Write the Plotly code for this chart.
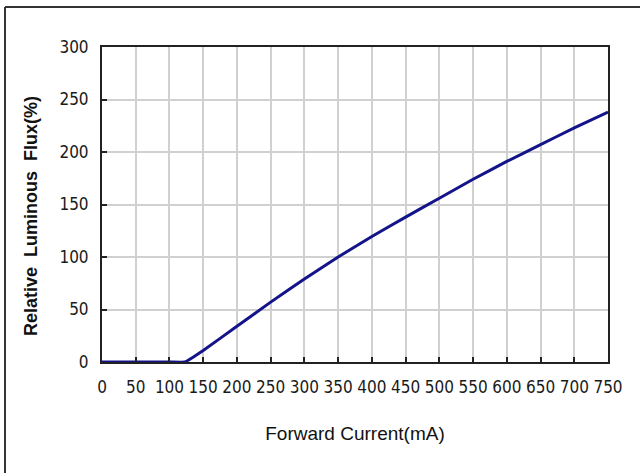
import plotly.graph_objects as go

# Relative luminous flux versus forward current
current_ma = [0, 50, 100, 123, 150, 200, 250, 300, 350, 400, 450, 500, 550, 600, 650, 700, 750]
flux_pct = [0, 0, 0, 0, 11, 34, 57, 79, 100, 119.5, 138, 156, 174, 191, 207, 223, 238]

x_ticks = list(range(0, 751, 50))
y_ticks = list(range(0, 301, 50))

tick_font = dict(family="DejaVu Sans Condensed, Liberation Sans, sans-serif", size=17, color="#1a1a1a")

fig = go.Figure()
fig.add_trace(go.Scatter(
    x=current_ma, y=flux_pct, mode="lines",
    line=dict(color="#14148a", width=3, shape="spline", smoothing=0.3),
    showlegend=False, hoverinfo="skip",
))

axis_common = dict(
    showgrid=True, gridcolor="#d0d0d0", gridwidth=1.5,
    showline=True, linecolor="#222222", linewidth=2, mirror=True,
    ticks="inside", ticklen=5, tickwidth=1.5, tickcolor="#222222",
    tickfont=tick_font, zeroline=False,
)

fig.update_xaxes(
    range=[0, 750], tickvals=x_ticks, ticklabelstandoff=9,
    title=dict(text="Forward Current(mA)", standoff=30,
               font=dict(family="Liberation Sans, Arial, sans-serif", size=19, color="#111111")),
    **axis_common,
)
fig.update_yaxes(range=[0, 300], tickvals=y_ticks, ticklabelstandoff=8, **axis_common)

# Outer frame (top and left edges of the figure box)
L, R, T, B = 102, 608, 47, 362
def px_x(p):
    return (p - L) / (R - L)
def px_y(p):
    return (B - p) / (B - T)

fig.add_annotation(
    text="<b>Relative  Luminous  Flux(%)</b>", textangle=-90,
    xref="paper", yref="paper", x=px_x(31), y=px_y(216),
    xanchor="center", yanchor="middle", showarrow=False,
    font=dict(family="Liberation Sans, Arial, sans-serif", size=18, color="#111111"),
)

fig.add_shape(type="line", xref="paper", yref="paper",
              x0=px_x(5), x1=px_x(645), y0=px_y(7), y1=px_y(7),
              line=dict(color="#333333", width=2))
fig.add_shape(type="line", xref="paper", yref="paper",
              x0=px_x(5), x1=px_x(5), y0=px_y(7), y1=px_y(480),
              line=dict(color="#333333", width=2))

fig.update_layout(
    width=640, height=473,
    margin=dict(l=L, r=640 - R, t=T, b=473 - B),
    paper_bgcolor="white", plot_bgcolor="white",
)

fig.write_html("out.html")
